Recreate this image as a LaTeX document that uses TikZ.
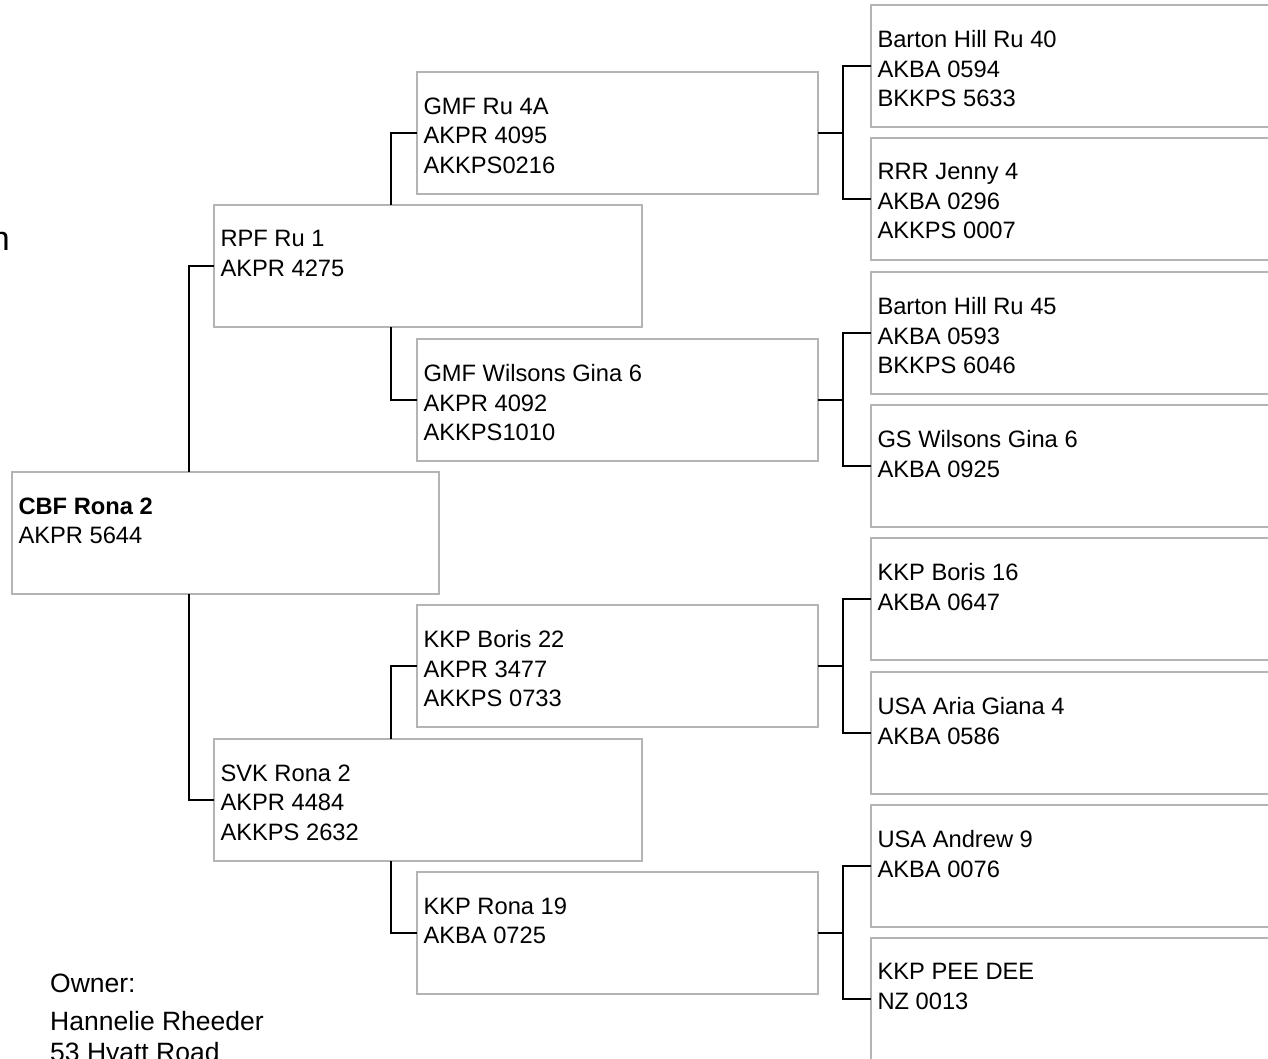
\documentclass[tikz,border=0pt]{standalone}
\usepackage{fontspec}
\setmainfont{Liberation Sans}
\usetikzlibrary{calc}
\definecolor{boxgray}{HTML}{B4B4B4}
\tikzset{
  pbox/.style={draw=boxgray, line width=2pt, fill=white, rectangle, inner sep=0pt, outer sep=0pt,
    minimum height=122pt, anchor=north west},
  ptext/.style={anchor=north west, inner sep=0pt, outer sep=0pt, align=left,
    font=\fontsize{23.7}{29.5}\selectfont},
  conn/.style={draw=black, line width=2.3pt},
  ownertext/.style={anchor=base west, inner sep=0pt, font=\fontsize{26.5}{30}\selectfont}
}
\newcommand\pedbox[5]{%
  \node[pbox, minimum width=#4] (#1) at (#2,#3) {};
  \node[ptext] (#1-t) at ([xshift=6.5pt,yshift=-25.5pt]#1.north west) {#5};
}
\begin{document}
\begin{tikzpicture}[x=1pt,y=-1pt]
\useasboundingbox (0,0) rectangle (1268,1059);
\clip (0,0) rectangle (1268,1059);
\fill[white] (0,0) rectangle (1268,1059);

% generation 0
\pedbox{g0}{12}{472}{427pt}{\textbf{CBF Rona 2}\\AKPR 5644}
% generation 1
\pedbox{g1a}{214}{205}{428pt}{RPF Ru 1\\AKPR 4275}
\pedbox{g1b}{214}{739}{428pt}{SVK Rona 2\\AKPR 4484\\AKKPS 2632}
% generation 2
\pedbox{g2a}{417}{72}{401pt}{GMF Ru 4A\\AKPR 4095\\AKKPS0216}
\pedbox{g2b}{417}{339}{401pt}{GMF Wilsons Gina 6\\AKPR 4092\\AKKPS1010}
\pedbox{g2c}{417}{605}{401pt}{KKP Boris 22\\AKPR 3477\\AKKPS 0733}
\pedbox{g2d}{417}{872}{401pt}{KKP Rona 19\\AKBA 0725}
% generation 3
\pedbox{g3a}{871}{5}{430pt}{Barton Hill Ru 40\\AKBA 0594\\BKKPS 5633}
\pedbox{g3b}{871}{138}{430pt}{RRR Jenny 4\\AKBA 0296\\AKKPS 0007}
\pedbox{g3c}{871}{272}{430pt}{Barton Hill Ru 45\\AKBA 0593\\BKKPS 6046}
\pedbox{g3d}{871}{405}{430pt}{GS Wilsons Gina 6\\AKBA 0925}
\pedbox{g3e}{871}{538}{430pt}{KKP Boris 16\\AKBA 0647}
\pedbox{g3f}{871}{672}{430pt}{USA Aria Giana 4\\AKBA 0586}
\pedbox{g3g}{871}{805}{430pt}{USA Andrew 9\\AKBA 0076}
\pedbox{g3h}{871}{938}{430pt}{KKP PEE DEE\\NZ 0013}

% connectors gen0 -> gen1
\draw[conn] ([xshift=177pt]g0.north west) |- (g1a.west);
\draw[conn] ([xshift=177pt]g0.south west) |- (g1b.west);
% gen1 -> gen2
\draw[conn] ([xshift=177pt]g1a.north west) |- (g2a.west);
\draw[conn] ([xshift=177pt]g1a.south west) |- (g2b.west);
\draw[conn] ([xshift=177pt]g1b.north west) |- (g2c.west);
\draw[conn] ([xshift=177pt]g1b.south west) |- (g2d.west);
% gen2 -> gen3
\foreach \p/\u/\l in {g2a/g3a/g3b, g2b/g3c/g3d, g2c/g3e/g3f, g2d/g3g/g3h}{
  \draw[conn] (\p.east) -- ([xshift=25pt]\p.east);
  \draw[conn] (\u.west) -| ([xshift=25pt]\p.east) |- (\l.west);
}

% partial text at left edge
\node[anchor=base east, inner sep=0pt, font=\fontsize{34}{40}\selectfont] (cut) at (10,251) {n};

% owner
\node[ownertext] (own) at (50,992) {Owner:};
\node[ownertext] (ownname) at (50,1030) {Hannelie Rheeder};
\node[ownertext] (ownaddr) at (50,1061) {53 Hyatt Road};
\end{tikzpicture}
\end{document}
